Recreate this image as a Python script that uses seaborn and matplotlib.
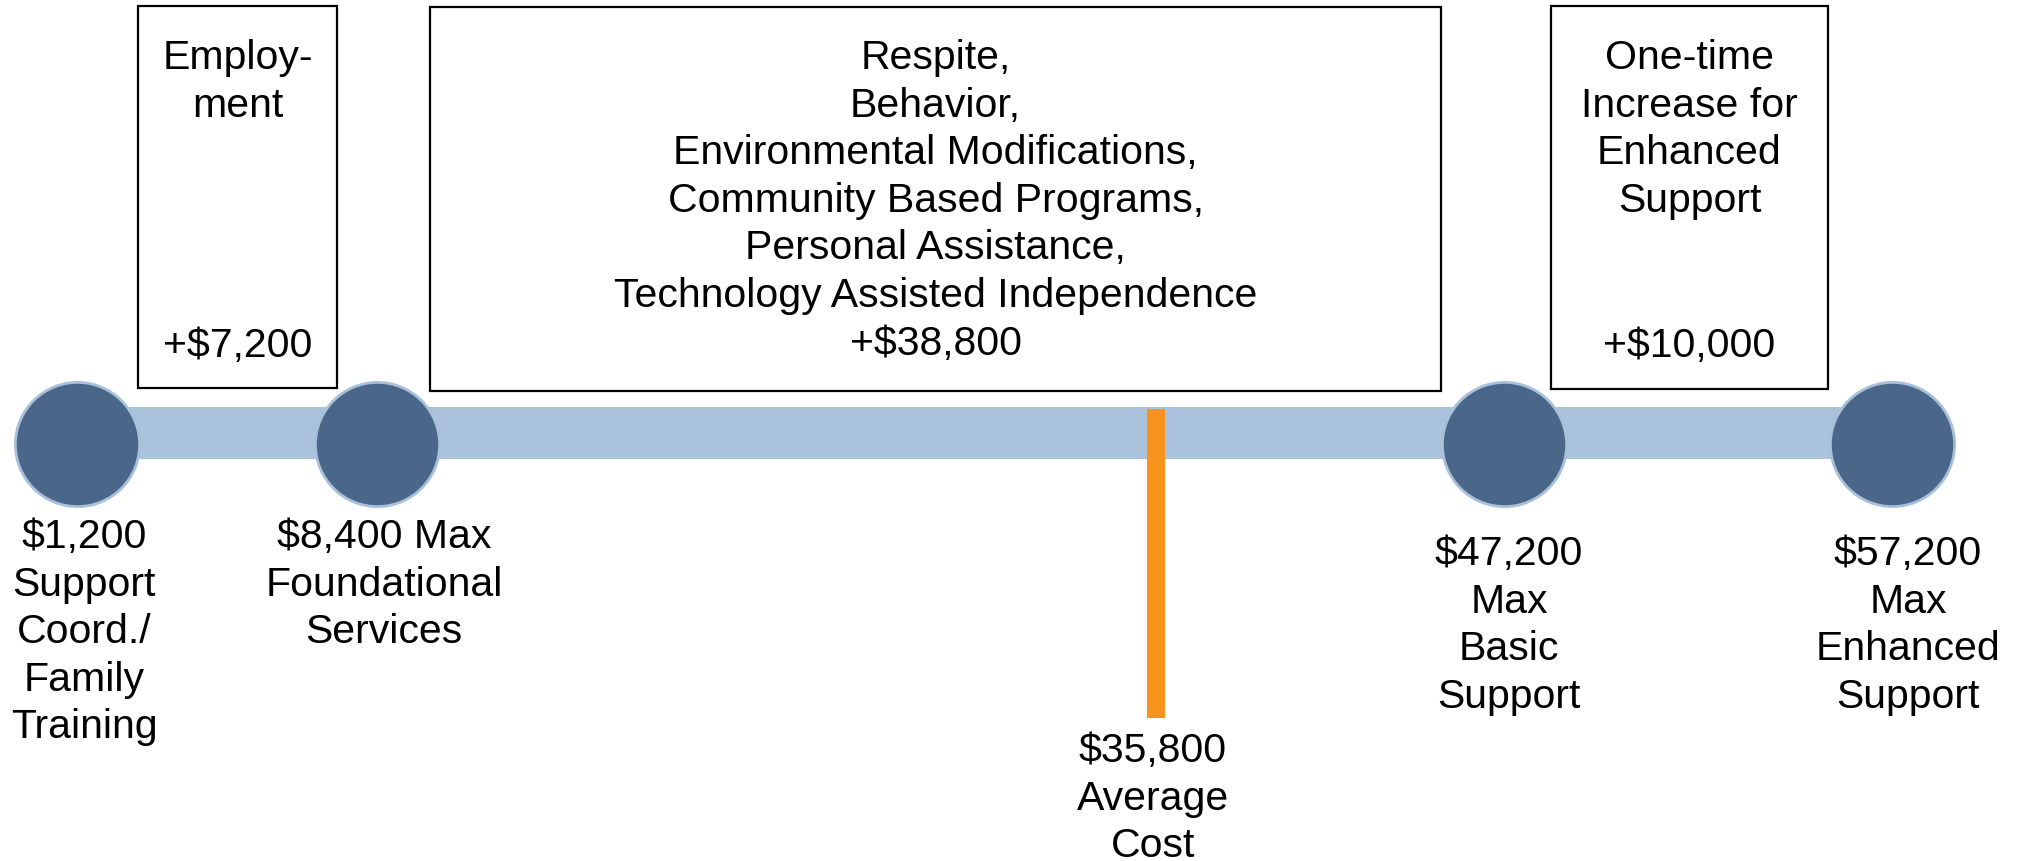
import numpy as np
import matplotlib
matplotlib.use("Agg")
import matplotlib.pyplot as plt
import matplotlib.transforms as mtransforms
from matplotlib.patches import Rectangle
import seaborn as sns

# data
node_values = [1200, 8400, 47200, 57200]
node_captions = ["\nSupport\nCoord./\nFamily\nTraining",
                 " Max\nFoundational\nServices",
                 "\nMax\nBasic\nSupport",
                 "\nMax\nEnhanced\nSupport"]
avg_value = 35800
avg_caption = "\nAverage\nCost"
increments = [7200, 38800, 10000]
increment_titles = ["Employ-\nment",
                    "Respite,\nBehavior,\nEnvironmental Modifications,\n"
                    "Community Based Programs,\nPersonal Assistance,\n"
                    "Technology Assisted Independence",
                    "One-time\nIncrease for\nEnhanced\nSupport"]

# schematic (non-linear) dollar -> pixel scale of the timeline
dollar_knots = [0, 1200, 8400, 35800, 47200, 57200, 60000]
px_knots = [0, 77, 377, 1156, 1504, 1892, 2017]

def fwd(x):
    return np.interp(x, dollar_knots, px_knots)

def inv(p):
    return np.interp(p, px_knots, dollar_knots)

W, H = 2017, 862
plt.rcParams['font.family'] = ['Liberation Sans', 'DejaVu Sans']
FS = 29.5
LS = 1.32
STEP = 47.6  # pixel distance between text lines


def last_base(first_base, s):
    # matplotlib puts va='baseline' on the last line of a multi-line text
    return first_base + s.count("\n") * STEP


fig = plt.figure(figsize=(W / 100, H / 100), dpi=100)
ax = fig.add_axes([0, 0, 1, 1])
ax.set_xscale('function', functions=(fwd, inv))

timeline_y = 445
bar_y = 434

# light blue bar connecting the nodes
ax.plot([node_values[0], node_values[-1]], [bar_y, bar_y], color='#abc2dc',
        lw=37.4, solid_capstyle='butt', zorder=1)

# average cost marker
ax.plot([avg_value, avg_value], [410, 719], color='#f7941d', lw=13,
        solid_capstyle='butt', zorder=2)

sns.scatterplot(x=node_values, y=[timeline_y] * len(node_values), s=8000,
                color='#4a6789', edgecolor='#a9c0db', linewidth=2,
                zorder=3, ax=ax, legend=False)

ax.set_xlim(0, 60000)
ax.set_ylim(H, 0)
ax.axis('off')

# node labels
label_base = [548, 548, 565, 565]
label_dx = [7, 7, 5, 16]
for v, cap, yb, dx in zip(node_values, node_captions, label_base, label_dx):
    txt = f"${v:,}" + cap
    ax.annotate(txt, xy=(v, last_base(yb, txt)), xytext=(dx, 0),
                textcoords='offset pixels', ha='center', va='baseline',
                fontsize=FS, linespacing=LS)
avg_txt = f"${avg_value:,}" + avg_caption
ax.annotate(avg_txt, xy=(avg_value, last_base(762, avg_txt)),
            xytext=(-3, 0), textcoords='offset pixels', ha='center',
            va='baseline', fontsize=FS, linespacing=LS)

# increment boxes (pixel layout)
pix = mtransforms.Affine2D().scale(1 / W, -1 / H).translate(0, 1) + ax.transAxes
boxes = [(138, 7, 337, 389), (430, 8, 1441, 392), (1551, 7, 1828, 390)]
for (x0, y0, x1, y1), inc, title in zip(boxes, increments, increment_titles):
    ax.add_patch(Rectangle((x0, y0), x1 - x0, y1 - y0, transform=pix,
                           facecolor='white', edgecolor='black', lw=1.6,
                           zorder=2))
    cx = (x0 + x1) / 2
    amount = f"+${inc:,}"
    if title.count("\n") >= 5:
        txt = title + "\n" + amount
        ax.text(cx, last_base(69, txt), txt, transform=pix, ha='center',
                va='baseline', fontsize=FS, linespacing=LS, zorder=4)
    else:
        ax.text(cx, last_base(69, title), title, transform=pix, ha='center',
                va='baseline', fontsize=FS, linespacing=LS, zorder=4)
        ax.text(cx, 357, amount, transform=pix, ha='center', va='baseline',
                fontsize=FS, zorder=4)

fig.savefig('out.png', dpi=100, facecolor='white')
